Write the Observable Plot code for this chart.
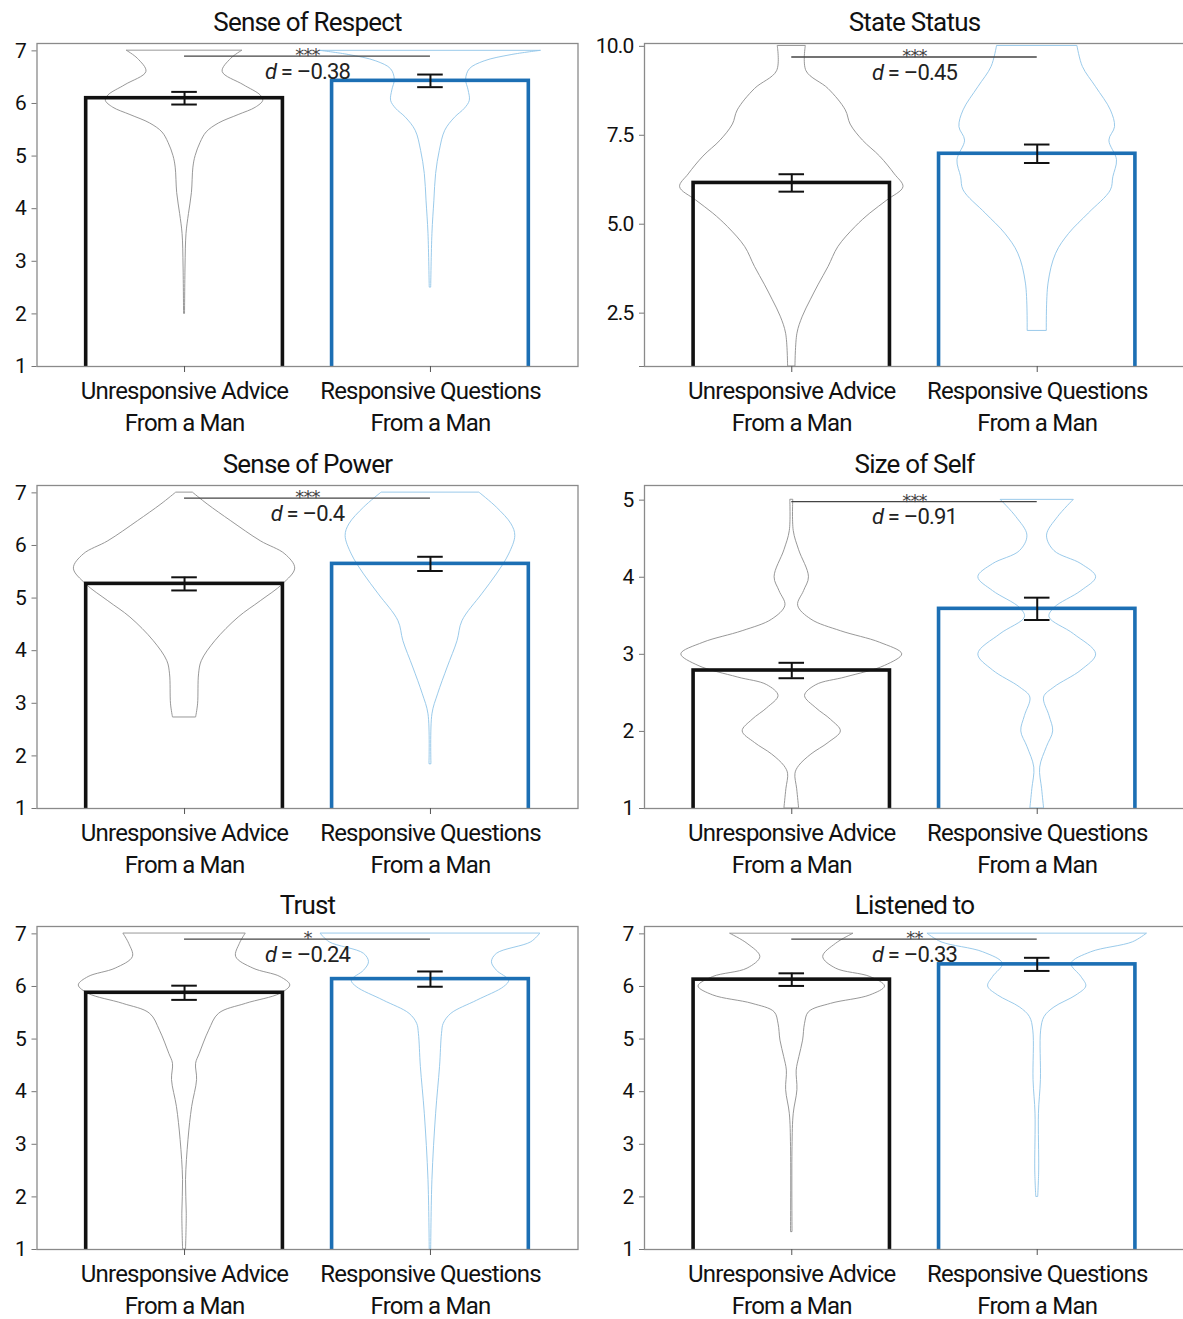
<!DOCTYPE html>
<html><head><meta charset="utf-8">
<script src="https://cdn.jsdelivr.net/npm/d3@7"></script>
<script src="https://cdn.jsdelivr.net/npm/@observablehq/plot@0.6"></script>
<style>
body{margin:0;background:#fff;}
#wrap{position:relative;width:1183px;height:1319px;overflow:hidden;background:#fff;}
.panel{position:absolute;}
</style></head>
<body><div id="wrap"></div>
<script>
// ---------- data ----------
const titles = ["Sense of Respect", "State Status", "Sense of Power", "Size of Self", "Trust", "Listened to"];
const categories = ["Unresponsive Advice\nFrom a Man", "Responsive Questions\nFrom a Man"];
const meanUnresponsive = [6.10, 6.16, 5.27, 2.79, 5.88, 6.13];
const meanResponsive   = [6.43, 6.98, 5.65, 3.59, 6.14, 6.42];
const seUnresponsive = [0.12, 0.245, 0.125, 0.10, 0.135, 0.12];
const seResponsive   = [0.12, 0.26, 0.135, 0.145, 0.145, 0.125];
const significance = ["***", "***", "***", "***", "*", "**"];
const cohensD = [-0.38, -0.45, -0.4, -0.91, -0.24, -0.33];
const sigLineY = [6.9, 9.7, 6.9, 4.98, 6.9, 6.9];
const yDomainMax = [7.14, 10.08, 7.14, 5.19, 7.14, 7.14];
const yTicks = [[1,2,3,4,5,6,7], [1,2.5,5,7.5,10], [1,2,3,4,5,6,7], [1,2,3,4,5], [1,2,3,4,5,6,7], [1,2,3,4,5,6,7]];
const yTickLabels = [["1","2","3","4","5","6","7"], ["","2.5","5.0","7.5","10.0"], ["1","2","3","4","5","6","7"], ["1","2","3","4","5"], ["1","2","3","4","5","6","7"], ["1","2","3","4","5","6","7"]];

// violin outlines: [value, half-width in category units]
const violinRespectU = [[7.0,0.234],[6.85,0.19],[6.6,0.155],[6.35,0.24],[6.15,0.31],[6.05,0.32],[5.92,0.29],[5.78,0.22],[5.62,0.14],[5.45,0.09],[5.25,0.065],[5.0,0.045],[4.78,0.036],[4.3,0.03],[3.9,0.018],[3.52,0.008],[2.9,0.004],[2.0,0.002]];
const violinRespectR = [[7.0,0.448],[6.92,0.33],[6.8,0.22],[6.65,0.16],[6.45,0.145],[6.25,0.155],[6.05,0.16],[5.9,0.14],[5.73,0.1],[5.48,0.06],[5.1,0.038],[4.66,0.023],[4.15,0.016],[3.52,0.008],[2.5,0.003]];
const violinStateU = [[10.0,0.057],[9.3,0.06],[8.8,0.15],[8.2,0.22],[7.8,0.24],[7.35,0.29],[6.9,0.36],[6.4,0.42],[6.04,0.455],[5.67,0.39],[5.3,0.32],[4.92,0.26],[4.36,0.19],[3.8,0.15],[3.3,0.11],[2.86,0.077],[2.4,0.045],[1.92,0.023],[1.0,0.015]];
const violinStateR = [[10.0,0.164],[9.42,0.186],[8.85,0.24],[8.2,0.30],[7.73,0.317],[7.35,0.294],[6.8,0.325],[6.32,0.31],[5.95,0.30],[5.3,0.21],[4.73,0.13],[4.17,0.077],[3.33,0.046],[2.0,0.039]];
const violinPowerU = [[7.0,0.035],[6.78,0.094],[6.46,0.19],[6.08,0.31],[5.83,0.41],[5.56,0.45],[5.26,0.40],[4.94,0.31],[4.63,0.22],[4.18,0.125],[3.8,0.07],[3.55,0.059],[2.98,0.055],[2.73,0.047]];
const violinPowerR = [[7.0,0.2],[6.72,0.27],[6.4,0.33],[6.18,0.345],[5.83,0.32],[5.45,0.27],[5.07,0.21],[4.56,0.13],[4.18,0.11],[3.68,0.07],[3.17,0.031],[2.79,0.008],[1.84,0.004]];
const violinSelfU = [[5.0,0.006],[4.6,0.008],[4.35,0.03],[4.0,0.07],[3.82,0.05],[3.63,0.026],[3.45,0.08],[3.3,0.2],[3.15,0.36],[3.0,0.45],[2.85,0.38],[2.7,0.22],[2.6,0.1],[2.46,0.054],[2.3,0.1],[2.15,0.16],[2.0,0.2],[1.85,0.15],[1.7,0.08],[1.55,0.03],[1.45,0.015],[1.25,0.022],[1.0,0.03]];
const violinSelfR = [[5.0,0.148],[4.78,0.085],[4.54,0.04],[4.34,0.07],[4.17,0.18],[4.0,0.24],[3.82,0.18],[3.6,0.07],[3.48,0.05],[3.26,0.15],[3.0,0.24],[2.79,0.18],[2.57,0.07],[2.44,0.028],[2.2,0.05],[2.0,0.065],[1.8,0.04],[1.53,0.012],[1.25,0.02],[1.0,0.028]];
const violinTrustU = [[7.0,0.248],[6.81,0.225],[6.56,0.21],[6.34,0.28],[6.18,0.39],[6.02,0.43],[5.86,0.39],[5.67,0.25],[5.48,0.14],[5.16,0.1],[4.72,0.062],[4.53,0.047],[4.22,0.051],[3.71,0.031],[3.08,0.016],[2.32,0.006],[1.68,0.009],[1.0,0.006]];
const violinTrustR = [[7.0,0.446],[6.84,0.41],[6.62,0.27],[6.46,0.25],[6.3,0.27],[6.11,0.32],[5.99,0.30],[5.73,0.19],[5.48,0.085],[5.29,0.054],[5.1,0.047],[4.47,0.039],[3.58,0.023],[2.32,0.008],[1.0,0.003]];
const violinListenU = [[7.0,0.25],[6.81,0.18],[6.56,0.128],[6.34,0.18],[6.18,0.32],[6.0,0.38],[5.83,0.32],[5.67,0.16],[5.51,0.07],[5.29,0.054],[4.97,0.046],[4.66,0.031],[4.4,0.02],[4.03,0.023],[3.58,0.008],[2.95,0.003],[1.33,0.003]];
const violinListenR = [[7.0,0.446],[6.84,0.39],[6.65,0.22],[6.43,0.14],[6.18,0.18],[6.0,0.2],[5.83,0.16],[5.6,0.07],[5.42,0.03],[5.16,0.016],[4.22,0.015],[3.58,0.007],[2.5,0.008],[2.0,0.004]];
const violinUnresponsive = [violinRespectU, violinStateU, violinPowerU, violinSelfU, violinTrustU, violinListenU];
const violinResponsive = [violinRespectR, violinStateR, violinPowerR, violinSelfR, violinTrustR, violinListenR];

// ---------- style ----------
const FONT = 'Roboto, "Liberation Sans Narrow", "Noto Sans", sans-serif';
const LS = -0.8; // letter spacing, px (to approximate a condensed face)
const barColors = ["#111111", "#1c6fb4"];
const violinColors = ["#8c8c8c", "#8fc4e8"];
const rowTop = [0, 441.5, 883];
const colLeft = [0, 592];

const ctx = document.createElement("canvas").getContext("2d");
function textWidth(s, size, italic) {
  ctx.font = (italic ? "italic " : "") + size + "px " + FONT;
  if ("letterSpacing" in ctx) ctx.letterSpacing = LS + "px";
  return ctx.measureText(s).width;
}

function panel(i) {
  const left = i % 2 === 0;
  const groups = [
    {cat: 0, mean: meanUnresponsive[i], se: seUnresponsive[i], violin: violinUnresponsive[i]},
    {cat: 1, mean: meanResponsive[i], se: seResponsive[i], violin: violinResponsive[i]}
  ];
  const labelMap = new Map(yTicks[i].map((t, j) => [t, yTickLabels[i][j]]));
  const dText = "= \u2013" + Math.abs(cohensD[i]);
  const wD = textWidth("d", 22, true), wRest = textWidth(" " + dText, 22, false);
  const total = wD + wRest;
  const marks = [];
  groups.forEach(g => {
    const vd = g.violin.map(([y, w]) => ({y, w}));
    marks.push(Plot.areaX(vd, {y: "y", x1: d => g.cat - d.w, x2: d => g.cat + d.w, fill: "none",
      stroke: violinColors[g.cat], strokeWidth: 0.9, curve: "catmull-rom"}));
  });
  groups.forEach(g => {
    marks.push(Plot.rect([g], {x1: d => d.cat - 0.4, x2: d => d.cat + 0.4, y1: 0, y2: "mean",
      fill: "none", stroke: barColors[g.cat], strokeWidth: 3.6, clip: true}));
  });
  groups.forEach(g => {
    marks.push(Plot.ruleX([g], {x: "cat", y1: d => d.mean - d.se, y2: d => d.mean + d.se, stroke: "#111", strokeWidth: 2}));
    marks.push(Plot.ruleY([g.mean - g.se, g.mean + g.se], {y: d => d, x1: g.cat - 0.052, x2: g.cat + 0.052, stroke: "#111", strokeWidth: 2}));
  });
  marks.push(Plot.frame({stroke: "#8a8a8a", strokeWidth: 1.3}));
  marks.push(Plot.ruleY([sigLineY[i]], {x1: 0, x2: 1, stroke: "#444", strokeWidth: 1.3}));
  marks.push(Plot.text([significance[i]], {x: 0.5, y: sigLineY[i], text: d => d, fontSize: 18, fill: "#444",
    fontFamily: "DejaVu Sans, sans-serif", letterSpacing: "0px", lineAnchor: "bottom", dy: 5}));
  marks.push(Plot.text(["d"], {x: 0.5, y: sigLineY[i], text: d => d, fontStyle: "italic", fontSize: 22, fill: "#222",
    textAnchor: "start", dx: -total / 2, dy: 15.5, lineAnchor: "middle"}));
  marks.push(Plot.text([dText], {x: 0.5, y: sigLineY[i], text: d => d, fontSize: 22, fill: "#222",
    textAnchor: "end", dx: total / 2, dy: 15.5, lineAnchor: "middle"}));
  marks.push(Plot.axisY(yTicks[i], {tickFormat: d => labelMap.get(d), fontSize: 21, tickSize: 5, tickPadding: 6,
    stroke: "#777", fill: "#111", label: null}));
  marks.push(Plot.axisX([0, 1], {tickFormat: d => categories[d], fontSize: 24, lineHeight: 1.32, tickSize: 6,
    tickPadding: 4, stroke: "#555", fill: "#111", label: null}));
  marks.push(Plot.text([titles[i]], {frameAnchor: "top", text: d => d, fontSize: 26, fill: "#111",
    lineAnchor: "middle", dy: -21}));
  return Plot.plot({
    width: 592, height: 440,
    marginTop: 43, marginBottom: 74,
    marginLeft: left ? 36.5 : 52, marginRight: left ? 14.5 : 0,
    x: {domain: [-0.6, 1.6], label: null},
    y: {domain: [1, yDomainMax[i]], label: null},
    style: {fontFamily: FONT, letterSpacing: LS + "px", background: "transparent", overflow: "visible"},
    marks
  });
}

const wrap = document.getElementById("wrap");
for (let i = 0; i < 6; i++) {
  const svg = panel(i);
  svg.classList.add("panel");
  svg.style.left = colLeft[i % 2] + "px";
  svg.style.top = rowTop[Math.floor(i / 2)] + "px";
  wrap.appendChild(svg);
}
</script>
</body></html>
